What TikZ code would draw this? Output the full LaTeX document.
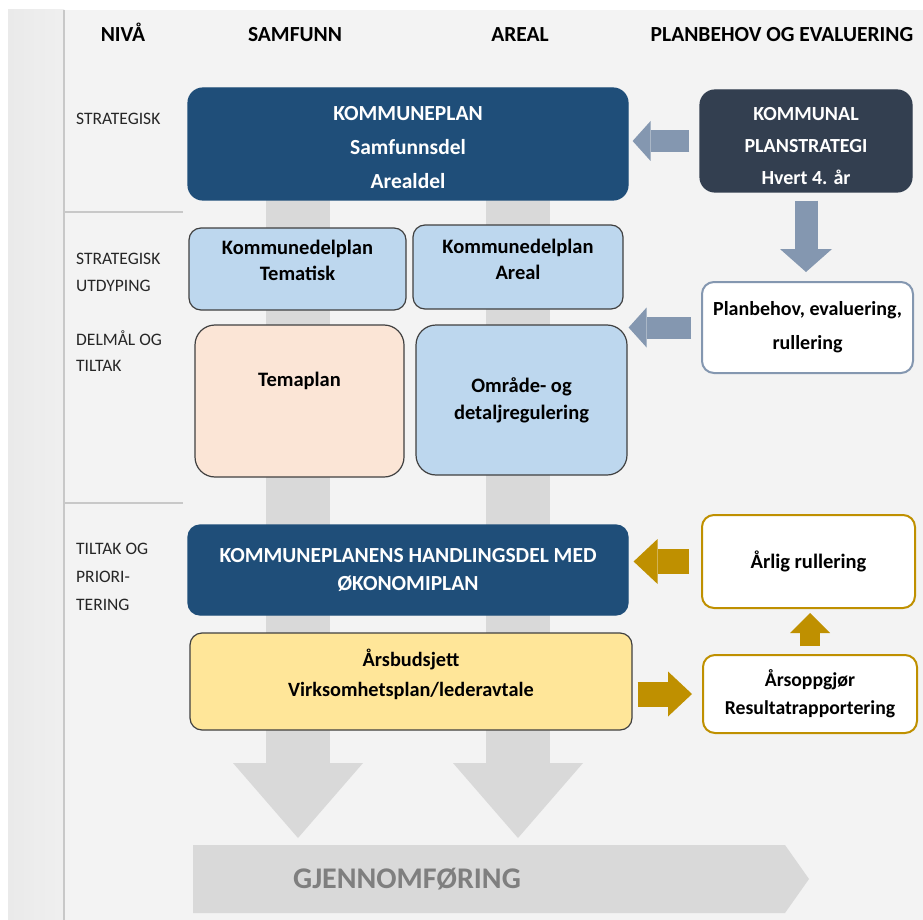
\documentclass[tikz,border=0pt]{standalone}
\usepackage{fontspec}
\setmainfont{Carlito}
\usetikzlibrary{arrows.meta}

\definecolor{darkblue}{HTML}{1F4E79}
\definecolor{navy}{HTML}{333F50}
\definecolor{lightblue}{HTML}{BDD7EE}
\definecolor{peach}{HTML}{FBE5D6}
\definecolor{lightyellow}{HTML}{FFE699}
\definecolor{bluegray}{HTML}{8497B0}
\definecolor{gold}{HTML}{BF9000}
\definecolor{bargray}{HTML}{D9D9D9}
\definecolor{bggray}{HTML}{F3F3F3}
\definecolor{stripgray}{HTML}{EAEAEA}
\definecolor{linegray}{HTML}{C8C8C8}
\definecolor{boxline}{HTML}{404040}
\definecolor{textgray}{HTML}{7F7F7F}
\definecolor{labelgray}{HTML}{262626}

\begin{document}
\begin{tikzpicture}[x=1pt,y=-1pt]
        \tikzstyle{box}=[draw=boxline, line width=1.2pt, rounded corners=12pt, align=center, inner sep=0pt, font=\bfseries\fontsize{20.5}{26}\selectfont]
        \tikzstyle{head}=[anchor=base, inner sep=0pt, font=\bfseries\fontsize{21.5}{26}\selectfont]
        \tikzstyle{level}=[anchor=base west, inner sep=0pt, text=labelgray, font=\fontsize{17.5}{21}\selectfont]
        \tikzstyle{divider}=[draw=linegray, line width=1.5pt]
        \tikzstyle{column}=[draw=bargray, line width=64pt, -{Triangle[width=130pt,length=75pt,line width=0pt]}]
        \tikzstyle{bluearrow}=[draw=bluegray, line width=22pt, -{Triangle[width=40pt,length=18pt,line width=0pt]}]
        \tikzstyle{goldarrow}=[draw=gold, line width=25pt, -{Triangle[width=45pt,length=24pt,line width=0pt]}]

        \useasboundingbox (0,0) rectangle (923,920);

        % Draw background
        \fill[white] (0,0) rectangle (923,920);
        \fill[bggray] (8,10) rectangle (923,920);
        \shade[left color=stripgray, right color=bggray!60!stripgray] (8,10) rectangle (64,920);
        \draw[divider] (64,10) -- (64,920);
        \draw[divider] (64,212) -- (183,212);
        \draw[divider] (64,503) -- (183,503);

        % Add column headers
        \node[head] (nivaa) at (123,42) {NIVÅ};
        \node[head] (samfunn) at (295,42) {SAMFUNN};
        \node[head] (areal) at (520,42) {AREAL};
        \node[head] (planbehov) at (782,42) {PLANBEHOV OG EVALUERING};

        % Add level labels top to bottom
        \foreach \t/\y [count=\i] in {STRATEGISK/125, STRATEGISK/264, UTDYPING/291, DELMÅL OG/345, TILTAK/371, TILTAK OG/554, PRIORI-/582, TERING/610} {
            \node[level] (lvl\i) at (76,\y) {\t};
        }

        % Draw gray columns
        \coordinate (samtop) at (298,150);
        \coordinate (samend) at (298,838);
        \coordinate (areatop) at (518,150);
        \coordinate (areaend) at (518,838);
        \draw[column] (samtop) -- (samend);
        \draw[column] (areatop) -- (areaend);

        % Draw implementation arrow
        \fill[bargray] (193,845) -- (785,845) -- (809,879) -- (785,913) -- (193,913) -- cycle;
        \node[anchor=base, inner sep=0pt, text=textgray, font=\bfseries\fontsize{30}{36}\selectfont] (gjen) at (407,888) {GJENNOMFØRING};

        % Add plan boxes
        \node[box, fill=darkblue, draw=darkblue, text=white, rounded corners=15pt, minimum width=440pt, minimum height=112pt, text height=90pt, font=\bfseries\fontsize{21.5}{34}\selectfont] (kp) at (408,144) {KOMMUNEPLAN\\Samfunnsdel\\Arealdel};
        \node[box, fill=navy, draw=navy, text=white, rounded corners=15pt, minimum width=212pt, minimum height=102pt, text height=87pt, font=\bfseries\fontsize{20}{32}\selectfont] (kps) at (806,141) {KOMMUNAL\\PLANSTRATEGI\\Hvert 4. år};
        \node[box, fill=lightblue, minimum width=217pt, minimum height=82pt, text depth=18pt] (kdt) at (297.5,269) {Kommunedelplan\\Tematisk};
        \node[box, fill=lightblue, minimum width=210pt, minimum height=84pt, text depth=16pt] (kda) at (518,267) {Kommunedelplan\\Areal};
        \node[box, fill=peach, rounded corners=20pt, minimum width=209pt, minimum height=152pt, text depth=43pt] (tema) at (299.5,401) {Temaplan};
        \node[box, fill=lightblue, rounded corners=20pt, minimum width=211pt, minimum height=150pt, font=\bfseries\fontsize{20.5}{27}\selectfont] (omr) at (521.5,400) {Område- og\\detaljregulering};
        \node[box, fill=white, draw=bluegray, line width=2pt, minimum width=211pt, minimum height=91pt, font=\bfseries\fontsize{20}{34}\selectfont] (pb) at (807.5,327.5) {Planbehov, evaluering,\\rullering};
        \node[box, fill=darkblue, draw=darkblue, text=white, minimum width=440pt, minimum height=90pt, font=\bfseries\fontsize{21.5}{28}\selectfont] (hd) at (408,570) {KOMMUNEPLANENS HANDLINGSDEL MED\\ØKONOMIPLAN};
        \node[box, fill=lightyellow, minimum width=442pt, minimum height=97pt, text depth=17pt, font=\bfseries\fontsize{20.3}{30}\selectfont] (ab) at (411,681.5) {Årsbudsjett\\Virksomhetsplan/lederavtale};
        \node[box, fill=white, draw=gold, line width=2pt, minimum width=213pt, minimum height=93pt] (ar) at (808.5,561.5) {Årlig rullering};
        \node[box, fill=white, draw=gold, line width=2pt, minimum width=214pt, minimum height=78pt, font=\bfseries\fontsize{19.7}{28}\selectfont] (ao) at (810,694) {Årsoppgjør\\Resultatrapportering};

        % Add block arrows
        \draw[bluearrow, shorten <=10pt, shorten >=4pt] (kps.west) -- (kps.west -| kp.east);
        \draw[bluegray, line width=23pt, -{Triangle[width=52pt,length=23pt,line width=0pt]}, shorten <=8pt, shorten >=9pt] (kps.south) -- (kps.south |- pb.north);
        \draw[bluearrow, shorten <=10pt, shorten >=1pt] (pb.west) -- (pb.west -| omr.east);
        \draw[goldarrow, shorten <=12pt, shorten >=5pt] (ar.west) -- (ar.west -| hd.east);
        \draw[goldarrow, shorten <=5pt, shorten >=10pt] (ab.east |- ao.west) -- (ao.west);
        \draw[gold, line width=20pt, -{Triangle[width=40pt,length=20pt,line width=0pt]}, shorten <=8pt, shorten >=4pt] (ao.north) -- (ao.north |- ar.south);
    \end{tikzpicture}
\end{document}
